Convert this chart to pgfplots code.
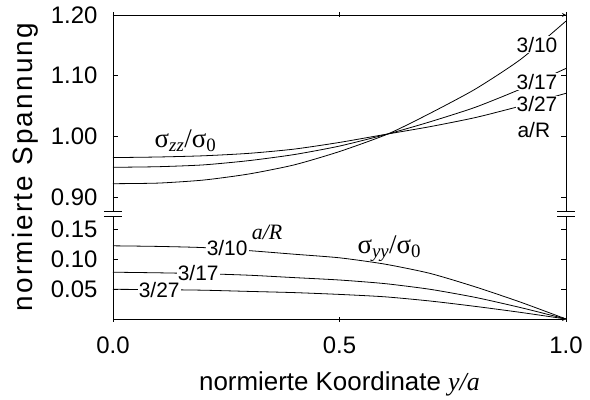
\documentclass[border=0pt]{standalone}
\usepackage{fontspec}
\setmainfont{Liberation Sans}
\newfontfamily\tms{Liberation Serif}
\newfontfamily\wide[LetterSpace=8]{Liberation Sans}
\usepackage{pgfplots}
\pgfplotsset{compat=1.18}

% sigma labels in a Times-like face
\newcommand{\sig}[1]{{\tms σ\textsubscript{\itshape #1}/σ\textsubscript{0}}}

\pgfplotsset{
  brk/.style={
    scale only axis, width=453bp,
    xmin=0, xmax=1, xtick={0,0.5,1},
    tick align=inside, major tick length=5bp,
    every tick/.style={black, line width=0.8pt},
    axis line style={-, line width=0.8pt},
    ticklabel style={font=\fontsize{24}{24}\selectfont},
    yticklabel shift=12bp, xticklabel shift=12bp,
    every axis plot post/.append style={black, line width=0.8pt, mark=none, smooth, tension=0.4},
    clip=false,
  },
}
\tikzset{lab/.style={fill=white, inner sep=1bp, font=\fontsize{21}{21}\selectfont}}

\begin{document}
\begin{tikzpicture}
\path[use as bounding box] (-113bp,-81bp) rectangle (477bp,319bp);

% upper part: sigma_zz
\begin{axis}[brk, at={(0,108bp)}, anchor=south west, height=196bp,
    axis x line=top, axis y line=box,
    ymin=0.877, ymax=1.2, ytick={0.9,1.0,1.1,1.2},
    yticklabels={0.90,1.00,1.10,1.20}, xticklabels={}]
\addplot coordinates {(0,0.965) (0.1,0.966) (0.2,0.968) (0.3,0.972) (0.4,0.979)
  (0.5,0.990) (0.607,1.004) (0.7,1.016) (0.8,1.031) (0.9,1.050) (1.0,1.071)};
\addplot coordinates {(0,0.949) (0.1,0.950) (0.2,0.953) (0.3,0.960) (0.4,0.970)
  (0.5,0.984) (0.607,1.004) (0.7,1.024) (0.8,1.048) (0.9,1.078) (1.0,1.112)};
\addplot coordinates {(0,0.922) (0.1,0.923) (0.2,0.928) (0.3,0.938) (0.4,0.953)
  (0.5,0.975) (0.607,1.004) (0.7,1.038) (0.8,1.078) (0.9,1.127) (1.0,1.190)};
\node[lab] at (axis cs:0.936,1.151) {3/10};
\node[lab] at (axis cs:0.936,1.090) {3/17};
\node[lab] at (axis cs:0.936,1.053) {3/27};
\node[font=\fontsize{21}{21}\selectfont] at (axis cs:0.929,1.010) {a/R};
\node[font=\fontsize{27}{27}\selectfont] at (axis cs:0.160,0.993) {\sig{zz}};
\end{axis}

% lower part: sigma_yy
\begin{axis}[brk, at={(0,0)}, anchor=south west, height=103bp,
    axis x line=bottom, axis y line=box,
    ymin=0, ymax=0.1717, ytick={0.05,0.1,0.15},
    yticklabels={0.05,0.10,0.15}, xticklabels={0.0,0.5,1.0}]
\addplot coordinates {(0,0.122) (0.1,0.121) (0.2,0.119) (0.3,0.114) (0.4,0.108)
  (0.5,0.102) (0.6,0.0915) (0.7,0.076) (0.8,0.0535) (0.9,0.028) (1.0,0)};
\addplot coordinates {(0,0.078) (0.1,0.077) (0.2,0.0755) (0.3,0.073) (0.4,0.069)
  (0.5,0.065) (0.6,0.059) (0.7,0.0495) (0.8,0.036) (0.9,0.019) (1.0,0)};
\addplot coordinates {(0,0.0495) (0.1,0.049) (0.2,0.048) (0.3,0.046) (0.4,0.044)
  (0.5,0.041) (0.6,0.037) (0.7,0.030) (0.8,0.021) (0.9,0.011) (1.0,0)};
\node[lab] at (axis cs:0.252,0.118) {3/10};
\node[lab] at (axis cs:0.188,0.077) {3/17};
\node[lab] at (axis cs:0.102,0.048) {3/27};
\node[font=\fontsize{22}{22}\selectfont\tms\itshape] at (axis cs:0.34,0.145) {a/R};
\node[font=\fontsize{27}{27}\selectfont] at (axis cs:0.610,0.117) {\sig{yy}};
\end{axis}

% axis break marks
\foreach \xx in {0bp,453bp} {
  \draw[line width=0.8pt] ([xshift=-9bp]\xx,103bp) -- ([xshift=9bp]\xx,103bp);
  \draw[line width=0.8pt] ([xshift=-9bp]\xx,108bp) -- ([xshift=9bp]\xx,108bp);
}

\node[rotate=90, font=\fontsize{28}{28}\wide] at (-88bp,152bp) {normierte Spannung};
\node[anchor=base, font=\fontsize{26}{26}\selectfont] at (226.5bp,-71bp)
  {normierte Koordinate {\tms\itshape y/a}};
\end{tikzpicture}
\end{document}
